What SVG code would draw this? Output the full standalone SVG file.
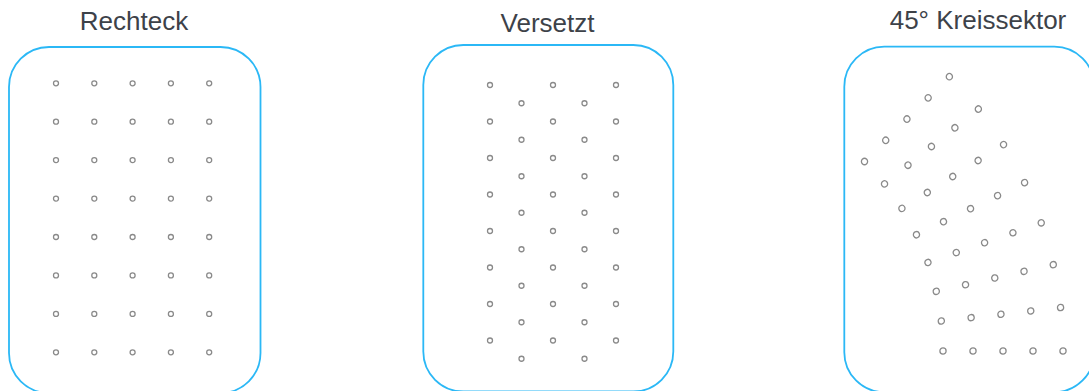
<svg xmlns="http://www.w3.org/2000/svg" xmlns:xlink="http://www.w3.org/1999/xlink" width="1089" height="391" viewBox="0 0 1089 391">
  <style>
    .title { font-family: "Liberation Sans", Arial, sans-serif; font-size: 26px; fill: #3d4249; text-anchor: middle; }
    .frame { fill: #ffffff; stroke: #2bb8f6; stroke-width: 1.8; }
    .hole { fill: none; stroke: #8a8a8a; stroke-width: 1.3; }
  </style>
  <defs>
    <!-- one ray of five holes, spaced 30 px, starting at radius 268 -->
    <g id="ray">
      <circle class="hole" cx="268" cy="0" r="3.1"/>
      <circle class="hole" cx="298" cy="0" r="3.1"/>
      <circle class="hole" cx="328" cy="0" r="3.1"/>
      <circle class="hole" cx="358" cy="0" r="3.1"/>
      <circle class="hole" cx="388" cy="0" r="3.1"/>
    </g>
    <!-- one row of five holes for the rectangular grid -->
    <g id="rectRow">
      <circle class="hole" cx="56" cy="0" r="2.5"/>
      <circle class="hole" cx="94.3" cy="0" r="2.5"/>
      <circle class="hole" cx="132.6" cy="0" r="2.5"/>
      <circle class="hole" cx="170.9" cy="0" r="2.5"/>
      <circle class="hole" cx="209.2" cy="0" r="2.5"/>
    </g>
    <!-- staggered grid: wide row (3 holes) and offset row (2 holes) -->
    <g id="stagA">
      <circle class="hole" cx="490" cy="0" r="2.5"/>
      <circle class="hole" cx="553" cy="0" r="2.5"/>
      <circle class="hole" cx="616" cy="0" r="2.5"/>
    </g>
    <g id="stagB">
      <circle class="hole" cx="521.5" cy="0" r="2.5"/>
      <circle class="hole" cx="584.5" cy="0" r="2.5"/>
    </g>
  </defs>

  <rect width="1089" height="391" fill="#ffffff"/>

  <!-- rectangular pattern -->
  <g id="rechteck">
    <text class="title" x="134" y="29.5">Rechteck</text>
    <rect class="frame" x="9" y="47" width="251.5" height="346" rx="40" ry="40"/>
    <use xlink:href="#rectRow" y="83.3"/>
    <use xlink:href="#rectRow" y="121.7"/>
    <use xlink:href="#rectRow" y="160.1"/>
    <use xlink:href="#rectRow" y="198.6"/>
    <use xlink:href="#rectRow" y="237.0"/>
    <use xlink:href="#rectRow" y="275.4"/>
    <use xlink:href="#rectRow" y="313.9"/>
    <use xlink:href="#rectRow" y="352.3"/>
  </g>

  <!-- staggered pattern -->
  <g id="versetzt">
    <text class="title" x="547.5" y="31.5">Versetzt</text>
    <rect class="frame" x="423.3" y="45" width="250" height="346.5" rx="40" ry="40"/>
    <use xlink:href="#stagA" y="85"/>
    <use xlink:href="#stagB" y="103.25"/>
    <use xlink:href="#stagA" y="121.5"/>
    <use xlink:href="#stagB" y="139.75"/>
    <use xlink:href="#stagA" y="158"/>
    <use xlink:href="#stagB" y="176.25"/>
    <use xlink:href="#stagA" y="194.5"/>
    <use xlink:href="#stagB" y="212.75"/>
    <use xlink:href="#stagA" y="231"/>
    <use xlink:href="#stagB" y="249.25"/>
    <use xlink:href="#stagA" y="267.5"/>
    <use xlink:href="#stagB" y="285.75"/>
    <use xlink:href="#stagA" y="304"/>
    <use xlink:href="#stagB" y="322.25"/>
    <use xlink:href="#stagA" y="340.5"/>
    <use xlink:href="#stagB" y="358.75"/>
  </g>

  <!-- 45 degree circular sector: 8 rays from a common centre -->
  <g id="kreissektor">
    <text class="title" x="978" y="28.5">45° Kreissektor</text>
    <rect class="frame" x="844.3" y="46.7" width="250" height="345.5" rx="40" ry="40"/>
    <g transform="translate(675 351)">
      <use xlink:href="#ray"/>
      <use xlink:href="#ray" transform="rotate(-6.4286)"/>
      <use xlink:href="#ray" transform="rotate(-12.8571)"/>
      <use xlink:href="#ray" transform="rotate(-19.2857)"/>
      <use xlink:href="#ray" transform="rotate(-25.7143)"/>
      <use xlink:href="#ray" transform="rotate(-32.1429)"/>
      <use xlink:href="#ray" transform="rotate(-38.5714)"/>
      <use xlink:href="#ray" transform="rotate(-45)"/>
    </g>
  </g>
</svg>
